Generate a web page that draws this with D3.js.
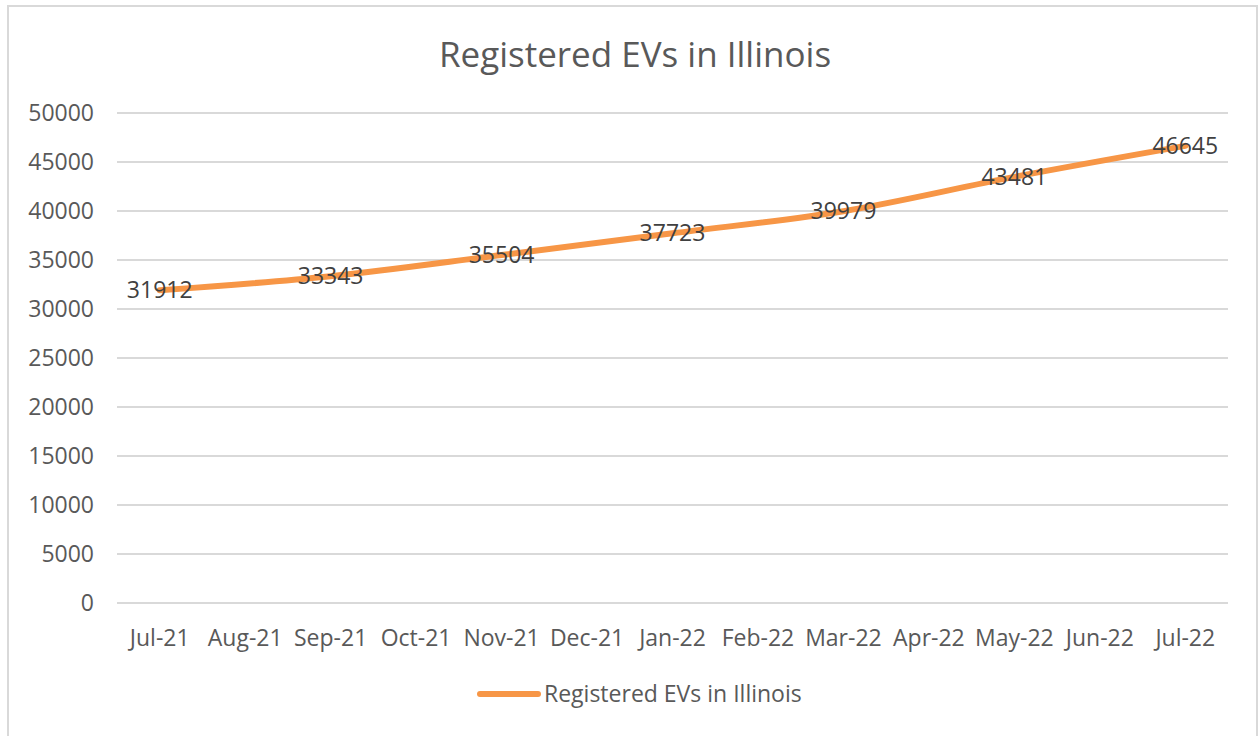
<!DOCTYPE html>
<meta charset="utf-8">
<script src="https://d3js.org/d3.v7.min.js"></script>
<style>
  body { margin: 0; background: #fff; }
  text { font-family: "Open Sans", sans-serif; fill: #595959; }
</style>
<div id="chart"></div>
<script>

// category labels on the x axis (one per month)
var months = ["Jul-21", "Aug-21", "Sep-21", "Oct-21", "Nov-21", "Dec-21", "Jan-22",
              "Feb-22", "Mar-22", "Apr-22", "May-22", "Jun-22", "Jul-22"];
// months that carry a value, and the values themselves
var dataMonths = ["Jul-21", "Sep-21", "Nov-21", "Jan-22", "Mar-22", "May-22", "Jul-22"];
var evCounts = [31912, 33343, 35504, 37723, 39979, 43481, 46645];
var yTicks = [0, 5000, 10000, 15000, 20000, 25000, 30000, 35000, 40000, 45000, 50000];
var seriesName = "Registered EVs in Illinois";

var width = 1259, height = 736;
var margin = {top: 113, right: 31, bottom: 133, left: 117};

var svg = d3.select("#chart")
  .append("svg")
    .attr("width", width)
    .attr("height", height);

// chart area border
svg.append("rect")
  .attr("x", 8).attr("y", 6)
  .attr("width", width - 10).attr("height", height)
  .attr("fill", "none")
  .attr("stroke", "#d9d9d9")
  .attr("stroke-width", 2);

var x = d3.scaleBand()
  .domain(months)
  .range([margin.left, width - margin.right]);

var y = d3.scaleLinear()
  .domain([0, 50000])
  .range([height - margin.bottom, margin.top]);

// gridlines
svg.append("g")
  .selectAll("line")
  .data(yTicks)
  .enter().append("line")
    .attr("x1", margin.left)
    .attr("x2", width - margin.right)
    .attr("y1", function(d) { return y(d); })
    .attr("y2", function(d) { return y(d); })
    .attr("stroke", "#d9d9d9")
    .attr("stroke-width", 2);

// y axis labels
var yAxis = svg.append("g")
  .attr("transform", "translate(" + margin.left + ",0)")
  .call(d3.axisLeft(y).tickValues(yTicks).tickSize(0).tickPadding(23).tickFormat(d3.format("d")));
yAxis.select(".domain").remove();
yAxis.selectAll("text")
  .style("font-size", "23px")
  .attr("fill", "#595959");

// x axis labels
var xAxis = svg.append("g")
  .attr("transform", "translate(0," + (height - margin.bottom) + ")")
  .call(d3.axisBottom(x).tickSize(0).tickPadding(27));
xAxis.select(".domain").remove();
xAxis.selectAll("text")
  .style("font-size", "23px")
  .attr("fill", "#595959");

// title
svg.append("text")
  .attr("x", 635)
  .attr("y", 67)
  .attr("text-anchor", "middle")
  .style("font-size", "35px")
  .text(seriesName);

var points = dataMonths.map(function(m, i) { return {month: m, value: evCounts[i]}; });

var line = d3.line()
  .x(function(d) { return x(d.month) + x.bandwidth() / 2; })
  .y(function(d) { return y(d.value); })
  .curve(d3.curveCatmullRom.alpha(0));

svg.append("path")
  .datum(points)
  .attr("d", line)
  .attr("fill", "none")
  .attr("stroke", "#f79646")
  .attr("stroke-width", 6)
  .attr("stroke-linecap", "round");

// data labels
svg.append("g")
  .selectAll("text")
  .data(points)
  .enter().append("text")
    .attr("x", function(d) { return x(d.month) + x.bandwidth() / 2; })
    .attr("y", function(d) { return y(d.value); })
    .attr("dy", "0.35em")
    .attr("text-anchor", "middle")
    .style("font-size", "23px")
    .style("fill", "#404040")
    .text(function(d) { return d.value; });

// legend
svg.append("line")
  .attr("x1", 480).attr("x2", 538)
  .attr("y1", 694).attr("y2", 694)
  .attr("stroke", "#f79646")
  .attr("stroke-width", 6)
  .attr("stroke-linecap", "round");

svg.append("text")
  .attr("x", 544)
  .attr("y", 694)
  .attr("dy", "0.35em")
  .style("font-size", "23px")
  .text(seriesName);

</script>
